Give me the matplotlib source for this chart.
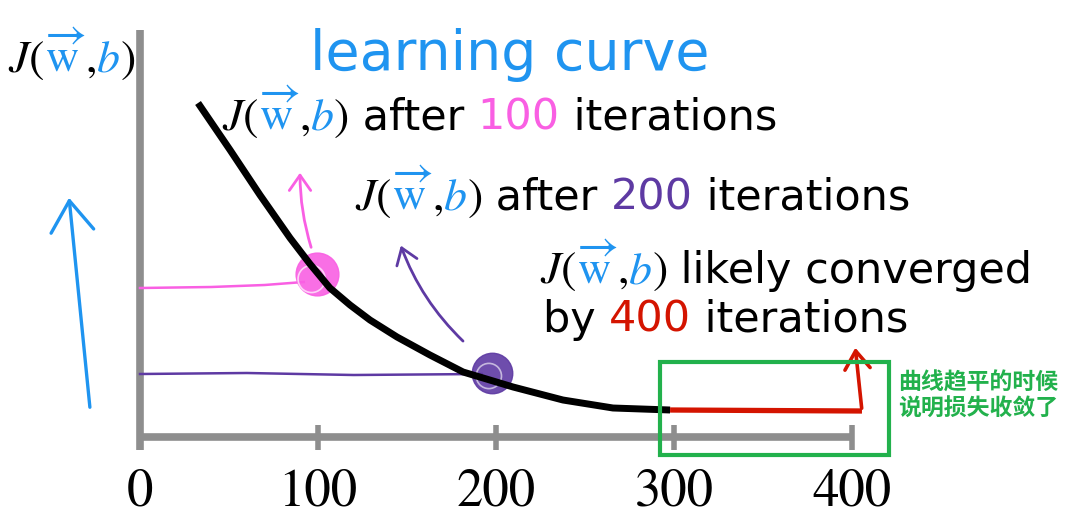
import matplotlib
matplotlib.use("Agg")
import matplotlib.pyplot as plt
from matplotlib.patches import FancyArrowPatch, Rectangle

plt.rcParams['mathtext.fontset'] = 'stix'
plt.rcParams['font.family'] = ['DejaVu Sans', 'Noto Sans CJK SC']

# data
iters = [32.6, 50.6, 67.4, 84.3, 95.5, 106.7, 118.0, 129.2, 144.4, 162.9,
         181.5, 209.6, 237.6, 265.7, 297.8]
cost = [334, 287, 242, 199, 173, 149, 132, 117, 100, 82, 65, 50, 37, 29, 27]
flat_iters = [297.8, 350, 405.6]
flat_cost = [27, 26.5, 26]
tick_vals = [0, 100, 200, 300, 400]
tick_labels = ['0', '100', '200', '300', '400']
pink_x = [0, 40, 70, 92]
pink_y = [149, 150, 152, 155]
purple_x = [0, 60, 120, 192]
purple_y = [63, 64, 62, 63]
pink_pt = (99.4, 163)
purple_pt = (198, 64)

BLUE = '#1f94f0'
PINK = '#f95fe3'
PURPLE = '#5e3aa3'
RED = '#d41400'
GRAY = '#8e8e8e'
GREEN = '#22b14c'

fig = plt.figure(figsize=(10.8, 5.19), dpi=100)
ax = fig.add_axes([0, 0, 1, 1])
px = 1.78  # pixels per iteration
ax.set_xlim(-140 / px, (1080 - 140) / px)
ax.set_ylim(437 - 519, 437)
ax.axis('off')

# axes (hand made, grey)
ax.plot([0, 0], [-13, 407], color=GRAY, lw=5.5, solid_capstyle='butt', zorder=2)
ax.plot([0, 400], [0, 0], color=GRAY, lw=5.5, solid_capstyle='butt', zorder=2)
for v, lab in zip(tick_vals, tick_labels):
    if v > 0:
        ax.plot([v, v], [-13, 12], color=GRAY, lw=4, solid_capstyle='butt', zorder=2)
    ax.text(v, -68, lab, ha='center', va='baseline', fontsize=38,
            family='STIXGeneral', color='black')

# guide lines to the circles
ax.plot(pink_x, pink_y, color=PINK, lw=1.8, zorder=3)
ax.plot(purple_x, purple_y, color=PURPLE, lw=1.8, zorder=3)

# scribbled circles
ax.scatter([pink_pt[0]], [pink_pt[1]], s=950, color=PINK, alpha=0.9, zorder=4)
ax.scatter([pink_pt[0] - 3], [pink_pt[1] - 5], s=380, facecolors='none',
           edgecolors='white', lw=1.2, alpha=0.7, zorder=4)
ax.scatter([purple_pt[0]], [purple_pt[1]], s=850, color=PURPLE, alpha=0.9, zorder=4)
ax.scatter([purple_pt[0] - 2], [purple_pt[1] - 3], s=330, facecolors='none',
           edgecolors='white', lw=1.2, alpha=0.6, zorder=4)

# learning curve
ax.plot(iters, cost, color='black', lw=5, solid_capstyle='butt',
        solid_joinstyle='round', zorder=5)
ax.plot(flat_iters, flat_cost, color=RED, lw=3.8, solid_capstyle='butt', zorder=5)


# hand drawn arrows
def arrow(p0, p1, color, lw, rad, scale):
    a = FancyArrowPatch(p0, p1, arrowstyle='->,head_length=0.5,head_width=0.35',
                        connectionstyle=f'arc3,rad={rad}', color=color, lw=lw,
                        mutation_scale=scale, zorder=6)
    ax.add_patch(a)


arrow((96.6, 187), (89.9, 267), PINK, 2, -0.08, 22)
arrow((182.6, 94), (146, 194), PURPLE, 2, -0.12, 22)
arrow((-28, 27), (-40, 242), BLUE, 2.4, 0.0, 44)
arrow((405.6, 26), (401.7, 92), RED, 2.6, 0.0, 26)

# green highlight box
ax.add_patch(Rectangle((292, -18), 129, 93, fill=False, edgecolor=GREEN, lw=3, zorder=7))
ax.text(425.8, 41, '曲线趋平的时候\n说明损失收敛了', color=GREEN, fontsize=16.5,
        fontweight='bold', family=['Noto Sans CJK SC'], va='center', ha='left',
        linespacing=1.15)

ax.text(95.5, 367, 'learning curve', color=BLUE, fontsize=40, va='baseline',
        family='DejaVu Sans')

# multi-coloured text lines
fig.canvas.draw()
renderer = fig.canvas.get_renderer()


def J_pieces():
    return [(r'$J($', 'black', 33), (r'$\overrightarrow{\mathrm{w}}$', BLUE, 33),
            (r'$,$', 'black', 33), (r'$b$', BLUE, 33), (r'$)$', 'black', 33)]


def colored_line(x, y, pieces):
    dx, dy = ax.transData.transform((x, y))
    for s, c, size in pieces:
        t = ax.text(dx, dy, s, color=c, fontsize=size, va='baseline', ha='left',
                    transform=None, zorder=8)
        bb = t.get_window_extent(renderer)
        dx = bb.x1


colored_line(-74, 365, J_pieces())
colored_line(46, 307, J_pieces() + [(' after ', 'black', 31), ('100', PINK, 31),
                                   (' iterations', 'black', 31)])
colored_line(120.8, 227, J_pieces() + [(' after ', 'black', 31), ('200', PURPLE, 31),
                                     (' iterations', 'black', 31)])
colored_line(224.7, 154, J_pieces() + [(' likely converged', 'black', 31)])
colored_line(226.4, 105, [('by ', 'black', 31), ('400', RED, 31),
                          (' iterations', 'black', 31)])

fig.savefig('out.png', dpi=100)
